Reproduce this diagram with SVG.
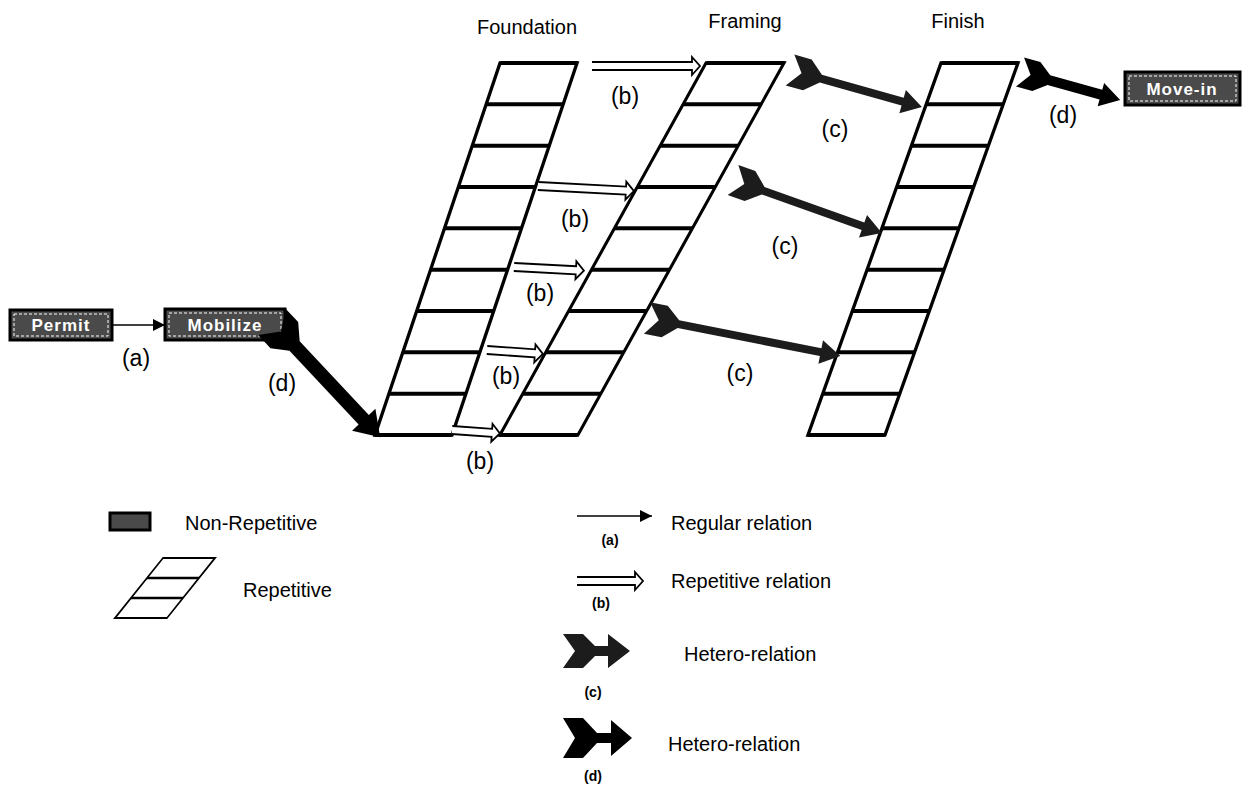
<svg xmlns="http://www.w3.org/2000/svg" width="1243" height="791" viewBox="0 0 1243 791">
  <style>
    text { font-family: "Liberation Sans", Arial, sans-serif; fill: #000; }
    .hdr { font-size: 20px; text-anchor: middle; }
    .lbl { font-size: 23px; text-anchor: middle; }
    .leg { font-size: 20px; }
    .sml { font-size: 14px; font-weight: bold; text-anchor: middle; }
    .boxtxt { font-size: 17px; font-weight: bold; fill: #fff; text-anchor: middle; letter-spacing: 1px; }
    .task { fill: #4a4a4a; stroke: #000; stroke-width: 3; }
    .taskin { fill: none; stroke: #fff; stroke-width: 1; stroke-dasharray: 3 2; }
    .side { fill: none; stroke: #000; stroke-width: 3.5; }
    .row { stroke: #000; stroke-width: 4; }
    .rep { fill: #fff; stroke: #000; stroke-width: 1.8; stroke-linejoin: miter; }
    .hetc { fill: #1c1c1c; }
    .hetd { fill: #000; }
    .reg { stroke: #000; stroke-width: 1.6; }
  </style>
  <defs>
    <marker id="tri" viewBox="0 0 10 10" refX="10" refY="5" markerWidth="12" markerHeight="12" markerUnits="userSpaceOnUse" orient="auto">
      <path d="M0,0 L10,5 L0,10 z" fill="#000"/>
    </marker>
  </defs>

  <rect width="1243" height="791" fill="#fff"/>

  <!-- column headings -->
  <text class="hdr" x="527" y="34">Foundation</text>
  <text class="hdr" x="745" y="28">Framing</text>
  <text class="hdr" x="958" y="28">Finish</text>

  <!-- non-repetitive activities -->
  <g id="permit">
    <rect class="task" x="10" y="310" width="102" height="30"/>
    <rect class="taskin" x="14" y="314" width="94" height="22"/>
    <text class="boxtxt" x="61" y="331">Permit</text>
  </g>
  <g id="mobilize">
    <rect class="task" x="165" y="309" width="120" height="31"/>
    <rect class="taskin" x="169" y="313" width="112" height="23"/>
    <text class="boxtxt" x="225" y="331">Mobilize</text>
  </g>
  <g id="movein">
    <rect class="task" x="1125" y="72" width="115" height="33"/>
    <rect class="taskin" x="1129" y="76" width="107" height="25"/>
    <text class="boxtxt" x="1182" y="95">Move-in</text>
  </g>

  <!-- repetitive activities: 9 units each, drawn as skewed stacks -->
  <g id="foundation" transform="matrix(1 0 -0.336 1 521.2 0)">
    <rect class="side" x="0" y="63" width="77" height="372"/>
    <g class="row">
      <line x1="0" y1="63" x2="77" y2="63"/><line x1="0" y1="104.3" x2="77" y2="104.3"/>
      <line x1="0" y1="145.7" x2="77" y2="145.7"/><line x1="0" y1="187" x2="77" y2="187"/>
      <line x1="0" y1="228.3" x2="77" y2="228.3"/><line x1="0" y1="269.7" x2="77" y2="269.7"/>
      <line x1="0" y1="311" x2="77" y2="311"/><line x1="0" y1="352.3" x2="77" y2="352.3"/>
      <line x1="0" y1="393.7" x2="77" y2="393.7"/><line x1="0" y1="435" x2="77" y2="435"/>
    </g>
  </g>
  <g id="framing" transform="matrix(1 0 -0.554 1 740.9 0)">
    <rect class="side" x="0" y="63" width="78" height="372"/>
    <g class="row">
      <line x1="0" y1="63" x2="78" y2="63"/><line x1="0" y1="104.3" x2="78" y2="104.3"/>
      <line x1="0" y1="145.7" x2="78" y2="145.7"/><line x1="0" y1="187" x2="78" y2="187"/>
      <line x1="0" y1="228.3" x2="78" y2="228.3"/><line x1="0" y1="269.7" x2="78" y2="269.7"/>
      <line x1="0" y1="311" x2="78" y2="311"/><line x1="0" y1="352.3" x2="78" y2="352.3"/>
      <line x1="0" y1="393.7" x2="78" y2="393.7"/><line x1="0" y1="435" x2="78" y2="435"/>
    </g>
  </g>
  <g id="finish" transform="matrix(1 0 -0.3575 1 963.5 0)">
    <rect class="side" x="0" y="63" width="77" height="372"/>
    <g class="row">
      <line x1="0" y1="63" x2="77" y2="63"/><line x1="0" y1="104.3" x2="77" y2="104.3"/>
      <line x1="0" y1="145.7" x2="77" y2="145.7"/><line x1="0" y1="187" x2="77" y2="187"/>
      <line x1="0" y1="228.3" x2="77" y2="228.3"/><line x1="0" y1="269.7" x2="77" y2="269.7"/>
      <line x1="0" y1="311" x2="77" y2="311"/><line x1="0" y1="352.3" x2="77" y2="352.3"/>
      <line x1="0" y1="393.7" x2="77" y2="393.7"/><line x1="0" y1="435" x2="77" y2="435"/>
    </g>
  </g>

  <!-- relations -->
  <g id="connectors">
    <!-- regular -->
    <line class="reg" x1="112" y1="325" x2="165" y2="325" marker-end="url(#tri)"/>
    <!-- repetitive (hollow double-line arrows) -->
    <path class="rep" transform="translate(592,66)" d="M0,-4 H100 V-9 L108,0 L100,9 V4 H0"/>
    <path class="rep" transform="translate(538,186) rotate(3)" d="M0,-4 H88 V-9 L96,0 L88,9 V4 H0"/>
    <path class="rep" transform="translate(514,267) rotate(3)" d="M0,-4 H62 V-9 L70,0 L62,9 V4 H0"/>
    <path class="rep" transform="translate(487,350) rotate(4)" d="M0,-4 H48 V-9 L56,0 L48,9 V4 H0"/>
    <path class="rep" transform="translate(452,430) rotate(4)" d="M0,-4 H40 V-9 L48,0 L40,9 V4 H0"/>
    <!-- hetero (c) -->
    <polygon class="hetc" transform="translate(790,70) rotate(15.7)" points="0,-16 18,-16 32,-4 117,-4 117,-12 137,0 117,12 117,4 32,4 18,16 0,16 12,0"/>
    <polygon class="hetc" transform="translate(733,180) rotate(19.6)" points="0,-16 18,-16 32,-4 138,-4 138,-12 158,0 138,12 138,4 32,4 18,16 0,16 12,0"/>
    <polygon class="hetc" transform="translate(647,318) rotate(11.1)" points="0,-16 18,-16 32,-4 177,-4 177,-12 197,0 177,12 177,4 32,4 18,16 0,16 12,0"/>
    <!-- hetero (d) -->
    <polygon class="hetd" transform="translate(1020,72) rotate(15.6)" points="0,-15 17,-15 30,-5 84,-5 84,-12 104,0 84,12 84,5 30,5 17,15 0,15 11,0"/>
    <polygon class="hetd" transform="translate(272,322) rotate(46.8)" points="0,-19 18,-19 33,-7 134,-7 134,-16 158,0 134,16 134,7 33,7 18,19 0,19 13,0"/>
  </g>

  <!-- relation labels -->
  <text class="lbl" x="136" y="366">(a)</text>
  <text class="lbl" x="625" y="104">(b)</text>
  <text class="lbl" x="575" y="227">(b)</text>
  <text class="lbl" x="540" y="301">(b)</text>
  <text class="lbl" x="506" y="384">(b)</text>
  <text class="lbl" x="480" y="469">(b)</text>
  <text class="lbl" x="835" y="137">(c)</text>
  <text class="lbl" x="785" y="254">(c)</text>
  <text class="lbl" x="740" y="381">(c)</text>
  <text class="lbl" x="1063" y="123">(d)</text>
  <text class="lbl" x="282" y="391">(d)</text>

  <!-- legend -->
  <g id="legend">
    <rect class="task" x="110" y="513" width="40" height="17" stroke-width="2.5"/>
    <text class="leg" x="185" y="530">Non-Repetitive</text>
    <g transform="matrix(1 0 -0.8 1 609.4 0)">
      <rect fill="none" stroke="#000" stroke-width="2.2" x="0" y="558" width="52" height="60"/>
      <line stroke="#000" stroke-width="2.5" x1="0" y1="578" x2="52" y2="578"/>
      <line stroke="#000" stroke-width="2.5" x1="0" y1="598" x2="52" y2="598"/>
    </g>
    <text class="leg" x="243" y="597">Repetitive</text>

    <line class="reg" x1="577" y1="516" x2="652" y2="516" marker-end="url(#tri)"/>
    <text class="sml" x="610" y="545">(a)</text>
    <text class="leg" x="671" y="530">Regular relation</text>

    <path class="rep" transform="translate(577,581)" d="M0,-4 H58 V-9 L66,0 L58,9 V4 H0"/>
    <text class="sml" x="601" y="608">(b)</text>
    <text class="leg" x="671" y="588">Repetitive relation</text>

    <polygon class="hetc" transform="translate(563,651)" points="0,-17 20,-17 32,-5 45,-5 45,-17 67,0 45,17 45,5 32,5 20,17 0,17 12,0"/>
    <text class="sml" x="593" y="697">(c)</text>
    <text class="leg" x="684" y="661">Hetero-relation</text>

    <polygon class="hetd" transform="translate(563,738)" points="0,-20 20,-20 34,-5 48,-5 48,-18 69,0 48,18 48,5 34,5 20,20 0,20 12,0"/>
    <text class="sml" x="593" y="781">(d)</text>
    <text class="leg" x="668" y="751">Hetero-relation</text>
  </g>
</svg>
